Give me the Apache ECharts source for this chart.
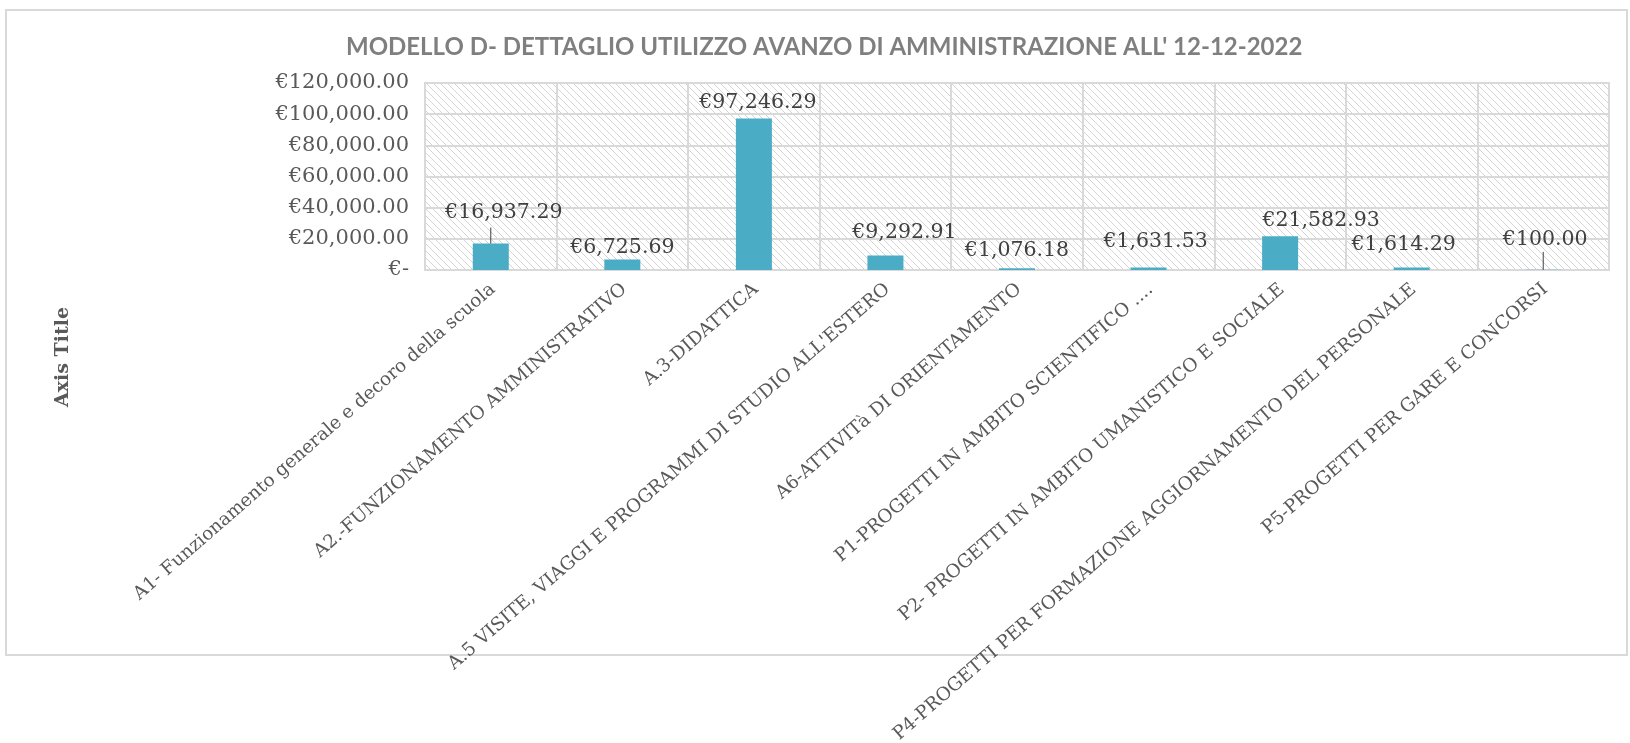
<!DOCTYPE html>
<html><head><meta charset="utf-8">
<script src="https://cdn.jsdelivr.net/npm/echarts@6/dist/echarts.min.js"></script>
<style>html,body{margin:0;padding:0;background:#fff}#c{width:1630px;height:743px}</style>
</head><body><div id="c"></div>
<script>
// ---- data ----
const chartTitle = "MODELLO D- DETTAGLIO UTILIZZO AVANZO DI AMMINISTRAZIONE ALL' 12-12-2022";
const categories = [
  "A1- Funzionamento generale e decoro della scuola",
  "A2.-FUNZIONAMENTO AMMINISTRATIVO",
  "A.3-DIDATTICA",
  "A.5 VISITE, VIAGGI E PROGRAMMI DI STUDIO ALL'ESTERO",
  "A6-ATTIVITà DI ORIENTAMENTO",
  "P1-PROGETTI IN AMBITO SCIENTIFICO ....",
  "P2- PROGETTI IN AMBITO UMANISTICO E SOCIALE",
  "P4-PROGETTI PER FORMAZIONE AGGIORNAMENTO DEL PERSONALE",
  "P5-PROGETTI PER GARE E CONCORSI"
];
const values = [16937.29, 6725.69, 97246.29, 9292.91, 1076.18, 1631.53, 21582.93, 1614.29, 100.00];
const yMin = 0, yMax = 120000, yStep = 20000;
const axisTitle = "Axis Title";

// ---- styling helpers (label placement in px, not data) ----
const labelShift = [[13,-15],[0,4],[4,0],[19,-7],[0,-2],[7,-10],[41,0],[-8,-7],[2,-15]];
const leaderLen = [16,0,0,0,0,0,0,0,18];

function euro(v){
  if (v === 0) return '€-';
  return '€' + v.toLocaleString('en-US',{minimumFractionDigits:2, maximumFractionDigits:2});
}

const tile = document.createElement('canvas');
tile.width = 7; tile.height = 7;
const tc = tile.getContext('2d');
tc.fillStyle = '#ffffff'; tc.fillRect(0,0,7,7);
tc.strokeStyle = '#d4d4d4'; tc.lineWidth = 1;
tc.beginPath();
tc.moveTo(-1,-1); tc.lineTo(8,8);
tc.moveTo(-1,6); tc.lineTo(1,8);
tc.moveTo(6,-1); tc.lineTo(8,1);
tc.stroke();

const G = {left: 425, top: 83, width: 1184, height: 187};
const labelDX = 2;

const chart = echarts.init(document.getElementById('c'));
chart.setOption({
  animation: false,
  backgroundColor: '#ffffff',
  title: {
    text: chartTitle,
    left: 346,
    top: 35,
    padding: 0,
    textStyle: {fontFamily: 'Lato', fontWeight: 'bold', fontSize: 24, color: '#7f7f7f'}
  },
  grid: [{
    left: G.left, top: G.top, width: G.width, height: G.height,
    outerBoundsMode: 'none', containLabel: false,
    show: true,
    backgroundColor: {image: tile, repeat: 'repeat'},
    borderColor: '#d9d9d9', borderWidth: 2
  }, {
    left: G.left + labelDX, top: G.top, width: G.width, height: G.height,
    outerBoundsMode: 'none', containLabel: false, show: false
  }],
  xAxis: [{
    type: 'category', gridIndex: 0,
    data: categories,
    axisTick: {show: false},
    axisLine: {show: true, lineStyle: {color: '#d9d9d9', width: 2}},
    splitLine: {show: true, interval: 0, lineStyle: {color: '#d9d9d9', width: 2}},
    axisLabel: {show: false, interval: 0}
  }, {
    type: 'category', gridIndex: 1,
    data: categories,
    axisTick: {show: false},
    axisLine: {show: false},
    splitLine: {show: false},
    axisLabel: {
      interval: 0, rotate: 41, margin: 17,
      fontFamily: 'DejaVu Serif', fontSize: 18.4, color: '#595959'
    }
  }],
  yAxis: [{
    type: 'value', gridIndex: 0,
    min: yMin, max: yMax, interval: yStep,
    axisLine: {show: false},
    axisTick: {show: false},
    splitLine: {show: true, lineStyle: {color: '#d9d9d9', width: 2}},
    axisLabel: {
      margin: 16, formatter: euro,
      fontFamily: 'DejaVu Serif', fontSize: 21, color: '#595959'
    }
  }, {
    type: 'value', gridIndex: 1, show: false,
    min: yMin, max: yMax, interval: yStep
  }],
  series: [{
    type: 'bar',
    xAxisIndex: 0, yAxisIndex: 0,
    barWidth: 36,
    data: values,
    itemStyle: {color: '#4bacc6'},
    label: {
      show: true, position: 'top', distance: 5,
      formatter: p => euro(p.value),
      fontFamily: 'DejaVu Serif', fontSize: 20.5, color: '#404040'
    },
    labelLayout: function(params){
      const s = labelShift[params.dataIndex];
      return {dx: s[0], dy: s[1]};
    }
  }, {
    type: 'custom',
    xAxisIndex: 0, yAxisIndex: 0,
    silent: true,
    z: 5,
    data: values.map((v,i) => [i, v]).filter(d => leaderLen[d[0]] > 0),
    encode: {x: 0, y: 1},
    renderItem: function(params, api){
      const i = api.value(0);
      const p = api.coord([i, api.value(1)]);
      const len = leaderLen[i];
      return {type: 'line', shape: {x1: p[0], y1: p[1], x2: p[0], y2: p[1] - len},
              style: {stroke: '#404040', lineWidth: 1}};
    }
  }],
  graphic: [
    {type: 'rect', silent: true, z: -10,
     shape: {x: 6, y: 10, width: 1621, height: 645},
     style: {fill: 'none', stroke: '#d9d9d9', lineWidth: 2}},
    {type: 'text', x: 63, y: 357, rotation: Math.PI/2,
     style: {text: axisTitle, fontFamily: 'DejaVu Serif', fontWeight: 'bold', fontSize: 19,
             fill: '#595959', align: 'center', verticalAlign: 'middle'}}
  ]
});
</script>
</body></html>
